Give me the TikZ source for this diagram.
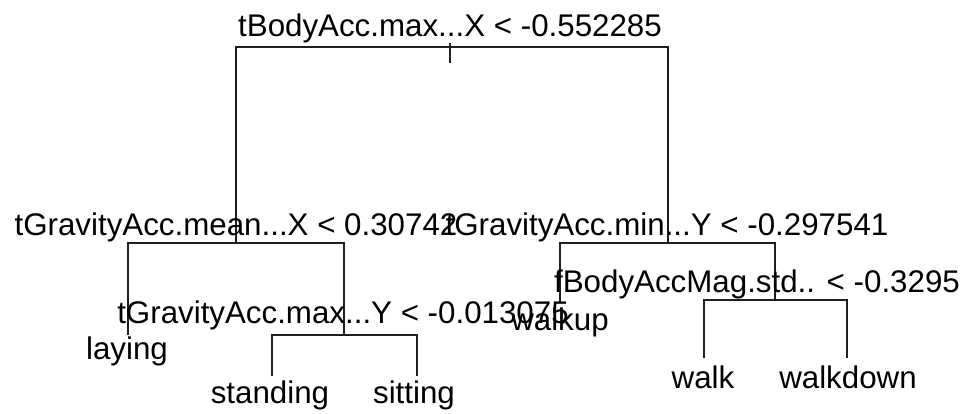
\documentclass[tikz,border=0pt]{standalone}
\usepackage{fontspec}
\setmainfont{Liberation Sans}
\begin{document}
\begin{tikzpicture}[x=1pt,y=-1pt,
  edge/.style={line width=1.5pt,color=black!88},
  lbl/.style={anchor=base,inner sep=0pt,font=\fontsize{31.3}{36}\selectfont}]
\useasboundingbox (0,0) rectangle (964,413);
% split points / leaf ends
\coordinate (c0) at (450,47);
\coordinate (c1) at (236,243);
\coordinate (c2) at (668,243);
\coordinate (c3) at (128,335);
\coordinate (c4) at (344,335);
\coordinate (c5) at (272,376);
\coordinate (c6) at (417,376);
\coordinate (c7) at (560,302);
\coordinate (c8) at (775,300);
\coordinate (c9) at (704,358);
\coordinate (c10) at (847,358);
\coordinate (t0) at (450,43);
\coordinate (t1) at (450,63);
% edges
\draw[edge] (t0) -- (t1);
\draw[edge] (c1) |- (c0) -| (c2);
\draw[edge] (c3) |- (c1) -| (c4);
\draw[edge] (c5) |- (c4) -| (c6);
\draw[edge] (c7) |- (c2) -| (c8);
\draw[edge] (c9) |- (c8) -| (c10);
% labels
\node[lbl] (l0) at (450,36) {tBodyAcc.max...X < -0.552285};
\node[lbl] (l1) at (236,235) {tGravityAcc.mean...X < 0.30742};
\node[lbl] (l2) at (667,235) {tGravityAcc.min...Y < -0.297541};
\node[lbl] (l4) at (343,323) {tGravityAcc.max...Y < -0.013075};
\node[lbl] (l8) at (757,292) {fBodyAccMag.std.. < -0.3295};
\node[lbl] (l3) at (127,359) {laying};
\node[lbl] (l5) at (270,403) {standing};
\node[lbl] (l6) at (414,403) {sitting};
\node[lbl] (l7) at (560,330) {walkup};
\node[lbl] (l9) at (703,388) {walk};
\node[lbl] (l10) at (848,388) {walkdown};
\end{tikzpicture}
\end{document}
